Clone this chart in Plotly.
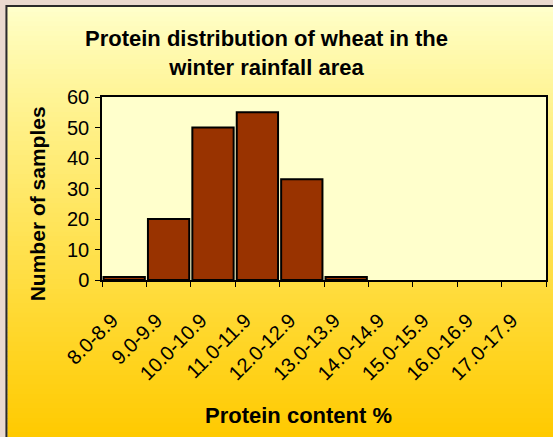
import plotly.graph_objs as go

# protein ranges and sample counts
protein_ranges = ["8.0-8.9", "9.0-9.9", "10.0-10.9", "11.0-11.9", "12.0-12.9",
                  "13.0-13.9", "14.0-14.9", "15.0-15.9", "16.0-16.9", "17.0-17.9"]
samples = [1, 20, 50, 55, 33, 1, 0, 0, 0, 0]
y_ticks = [0, 10, 20, 30, 40, 50, 60]

W, H = 553, 437
L, R, T, B = 102, 5, 97, 157
PW = W - L - R
PH = H - T - B
FONT = "Liberation Sans, Arial, sans-serif"


def px(x):
    return (x - L) / PW


def py(y):
    return (H - B - y) / PH


# yellow gradient card behind the chart
shapes = []
top, bottom = 7, H
n = 90
for i in range(n):
    y0 = top + (bottom - top) * i / n
    y1 = top + (bottom - top) * (i + 1) / n + 1
    f = (i + 0.5) / n
    g = round(255 - 53 * f)
    b = round(204 - 204 * f ** 0.85)
    shapes.append(dict(type="rect", xref="paper", yref="paper", layer="below",
                       x0=px(7), x1=px(W + 10), y0=py(y0), y1=py(min(y1, bottom + 5)),
                       fillcolor="rgb(255,%d,%d)" % (g, b), line_width=0))
shapes.append(dict(type="rect", xref="paper", yref="paper", layer="below",
                   x0=px(6), x1=px(W + 20), y0=py(6), y1=py(H + 20),
                   fillcolor="rgba(0,0,0,0)", line=dict(color="#2a2a2a", width=2)))
shapes.append(dict(type="rect", xref="paper", yref="paper", layer="below",
                   x0=0, x1=1, y0=0, y1=1, fillcolor="#FFFFCC", line_width=0))

# no outline on empty bars so the axis line stays thin there
outline = [2 if v else 0 for v in samples]
bars = go.Bar(x=protein_ranges, y=samples, marker_color="#993300",
              marker_line=dict(color="black", width=outline), hoverinfo="x+y")

layout = go.Layout(
    width=W, height=H, margin=dict(l=L, r=R, t=T, b=B),
    paper_bgcolor="#EAD9CF", plot_bgcolor="#FFFFCC",
    showlegend=False, bargap=0.07,
    font=dict(family=FONT, color="black"),
    xaxis=dict(showline=True, linecolor="black", linewidth=1.5, mirror=True,
               ticks="outside", ticklen=5, tickcolor="black", tickson="boundaries",
               tickangle=-45, tickfont=dict(size=20), ticklabelstandoff=19,
               ticklabelshift=-12, showgrid=False),
    yaxis=dict(range=[0, 60], tickvals=y_ticks, showline=True, linecolor="black",
               linewidth=1.5, mirror=True, ticks="outside", ticklen=5, tickcolor="black",
               tickfont=dict(size=20), ticklabelstandoff=2, showgrid=False,
               zeroline=False),
    shapes=shapes,
    annotations=[
        dict(text="<b>Protein distribution of wheat in the<br>winter rainfall area</b>",
             xref="paper", yref="paper", x=px(267), y=py(53), showarrow=False,
             xanchor="center", yanchor="middle", font=dict(size=22)),
        dict(text="<b>Number of samples</b>", textangle=-90, xref="paper", yref="paper",
             x=px(37), y=py(204), showarrow=False, xanchor="center", yanchor="middle",
             font=dict(size=21)),
        dict(text="<b>Protein content %</b>", xref="paper", yref="paper",
             x=px(299), y=py(415), showarrow=False, xanchor="center", yanchor="middle",
             font=dict(size=22)),
    ],
)

fig = go.Figure(data=[bars], layout=layout)
fig.write_html("out.html", config={"displayModeBar": False},
               post_script="document.body.style.margin='0';")
